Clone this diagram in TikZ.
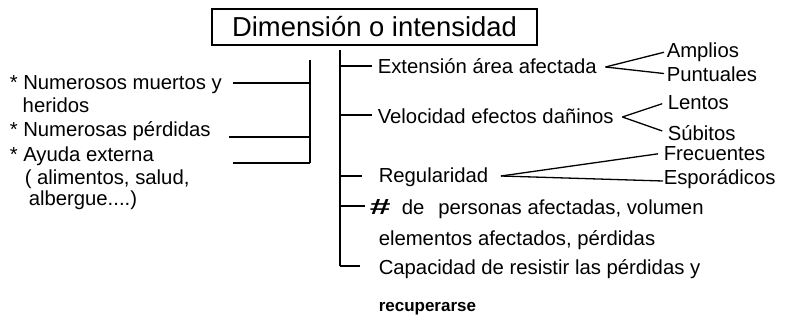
\documentclass[tikz,border=0pt]{standalone}
\usepackage{fontspec}
\setmainfont{Liberation Sans}
\usetikzlibrary{calc, math}

\begin{document}
\begin{tikzpicture}[x=1pt, y=-1pt, line width=1.5pt,
  txt/.style={anchor=base west, inner sep=0pt, font=\fontsize{20.3}{22}\selectfont},
  fork/.style={line width=1.3pt, line join=round}]
\tikzmath{
\xl=310;
\xr=340;
}
\useasboundingbox (0,0) rectangle (796,322);

\node[draw, minimum width=325pt, minimum height=36pt, inner sep=0pt,
  font=\fontsize{27.4}{29}\selectfont] (titulo) at (374.5,27) {Dimensión o intensidad};

\coordinate (rtop) at (\xr,50);
\coordinate (rbot) at (\xr,266);
\coordinate (ltop) at (\xl,60);
\coordinate (lbot) at (\xl,163);
\draw (rtop) -- (rbot);
\draw (ltop) -- (lbot);

\node[txt] (muertos) at (9,89) {* Numerosos muertos y};
\node[txt] (heridos) at (22,112) {heridos};
\node[txt] (perdidas) at (9,136) {* Numerosas pérdidas};
\node[txt] (ayuda) at (9,161) {* Ayuda externa};
\node[txt] (alimentos) at (24,184) {( alimentos, salud,};
\node[txt] (albergue) at (28,205) {albergue....)};

\coordinate (l1) at (\xl,83);
\coordinate (l2) at (\xl,137);
\draw (l1) -- ($(muertos.east |- l1)+(10,0)$);
\draw (l2) -- ($(perdidas.east |- l2)+(18,0)$);
\draw (lbot) -- ++(-77,0);

\node[txt] (ext) at (377,73) {Extensión área afectada};
\node[txt] (amplios) at (666,57) {Amplios};
\node[txt] (puntuales) at (666,81) {Puntuales};
\node[txt] (vel) at (377,123) {Velocidad efectos dañinos};
\node[txt] (lentos) at (667,109) {Lentos};
\node[txt] (subitos) at (667,140) {Súbitos};
\node[txt] (reg) at (378,182) {Regularidad};
\node[txt] (frec) at (663,160) {Frecuentes};
\node[txt] (espor) at (663,184) {Esporádicos};
\node[txt] (num) at (369,214) {\scalebox{1.7}[1]{\fontsize{22}{22}\selectfont\bfseries\#}\ \ de\hspace{14pt}personas afectadas, volumen};
\node[txt] (elem) at (378,245) {elementos afectados, pérdidas};
\node[txt] (cap) at (378,274) {Capacidad de resistir las pérdidas y};
\node[txt, font=\fontsize{17}{20}\selectfont\bfseries] (recup) at (378,311) {recuperarse};

\coordinate (r1) at (\xr,66);
\coordinate (r2) at (\xr,115);
\coordinate (r3) at (\xr,176);
\coordinate (r4) at (\xr,206);
\draw[shorten >=5pt] (r1) -- (r1 -| ext.west);
\draw[shorten >=5pt] (r2) -- (r2 -| vel.west);
\draw[shorten >=16pt] (r3) -- (r3 -| reg.west);
\draw[shorten >=4pt] (r4) -- (r4 -| num.west);
\draw[shorten >=18pt] (rbot) -- (rbot -| cap.west);

\coordinate (f1) at ($(ext.base east)+(8,-6)$);
\coordinate (f2) at ($(vel.base east)+(8,-6)$);
\coordinate (f3) at ($(reg.base east)+(12,-6)$);
\draw[fork, shorten >=2pt] (f1) -- (amplios.west);
\draw[fork, shorten >=2pt] (f1) -- (puntuales.west);
\draw[fork, shorten >=5pt] (f2) -- (lentos.west);
\draw[fork, shorten >=5pt] (f2) -- (subitos.west);
\draw[fork, shorten >=5pt] (f3) -- (frec.west);
\draw[fork] (f3) -- ($(espor.base west)+(0,-3)$);
\end{tikzpicture}
\end{document}
